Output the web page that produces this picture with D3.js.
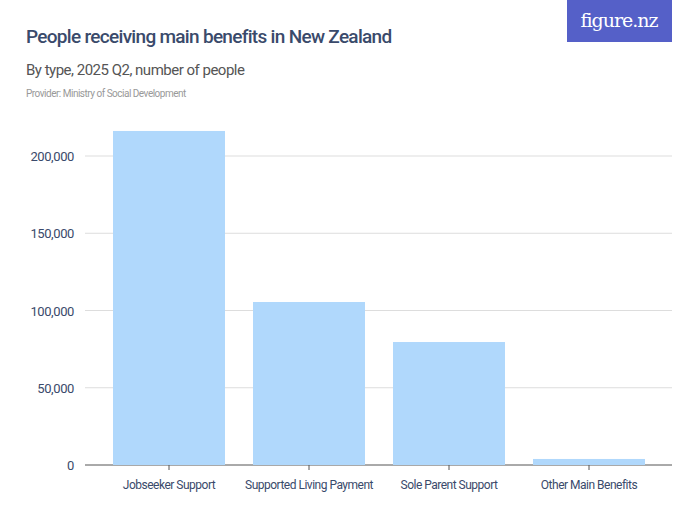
<!DOCTYPE html>
<html><head><meta charset="utf-8">
<script src="https://cdn.jsdelivr.net/npm/d3@7"></script>
<style>
body{margin:0;background:#fff;}
text{font-family:Roboto,"Liberation Sans",sans-serif;}
</style></head><body>
<div id="chart-area"></div>
<script>
var categories = ["Jobseeker Support", "Supported Living Payment", "Sole Parent Support", "Other Main Benefits"];
var values = [216200, 105500, 79600, 3900];
var ticks = [0, 50000, 100000, 150000, 200000];

var svg = d3.select("#chart-area").append("svg")
    .attr("width", 700).attr("height", 525);

var left = 85, right = 672, bottom = 465;

var x = d3.scaleBand().domain(categories).range([99, 659]).paddingInner(0.2).paddingOuter(0.1);
var y = d3.scaleLinear().domain([0, 200000]).range([bottom, 156]);

// titles
svg.append("text").attr("x", 26).attr("y", 43).attr("fill", "#3a4a6b")
    .style("font-size", "19px").style("font-weight", 500).style("letter-spacing", "-0.7px")
    .text("People receiving main benefits in New Zealand");
svg.append("text").attr("x", 26).attr("y", 75).attr("fill", "#555")
    .style("font-size", "15px").style("letter-spacing", "-0.5px")
    .text("By type, 2025 Q2, number of people");
svg.append("text").attr("x", 26).attr("y", 97).attr("fill", "#999")
    .style("font-size", "10px").style("letter-spacing", "-0.5px")
    .text("Provider: Ministry of Social Development");

// logo
svg.append("rect").attr("x", 567).attr("y", 0).attr("width", 105).attr("height", 42).attr("fill", "#5560c8");
svg.append("text").attr("x", 619).attr("y", 27).attr("text-anchor", "middle").attr("fill", "#fff")
    .style("font-family", "'DejaVu Serif',serif").style("font-size", "19px").style("letter-spacing", "-1px")
    .text("figure.nz");

// grid
svg.selectAll(".grid").data(ticks).enter().append("line")
    .attr("x1", left).attr("x2", right)
    .attr("y1", d => y(d)).attr("y2", d => y(d))
    .attr("stroke", d => d === 0 ? "#555" : "#ddd").attr("stroke-width", 1);

svg.selectAll(".yl").data(ticks).enter().append("text")
    .attr("x", 74).attr("y", d => y(d) + 5).attr("text-anchor", "end")
    .attr("fill", "#3a4a6b").style("font-size", "13px").style("letter-spacing", "-0.4px")
    .text(d => d3.format(",")(d));

svg.selectAll(".bar").data(values).enter().append("rect")
    .attr("x", (d, i) => x(categories[i]))
    .attr("width", x.bandwidth())
    .attr("y", d => y(d))
    .attr("height", d => bottom - y(d))
    .attr("fill", "#b0d8fc");

svg.selectAll(".xt").data(categories).enter().append("line")
    .attr("x1", d => x(d) + x.bandwidth() / 2).attr("x2", d => x(d) + x.bandwidth() / 2)
    .attr("y1", bottom).attr("y2", bottom + 5).attr("stroke", "#555");

svg.selectAll(".xl").data(categories).enter().append("text")
    .attr("x", d => x(d) + x.bandwidth() / 2).attr("y", 489).attr("text-anchor", "middle")
    .attr("fill", "#3a4a6b").style("font-size", "12px").style("letter-spacing", "-0.5px")
    .text(d => d);
</script>
</body></html>
